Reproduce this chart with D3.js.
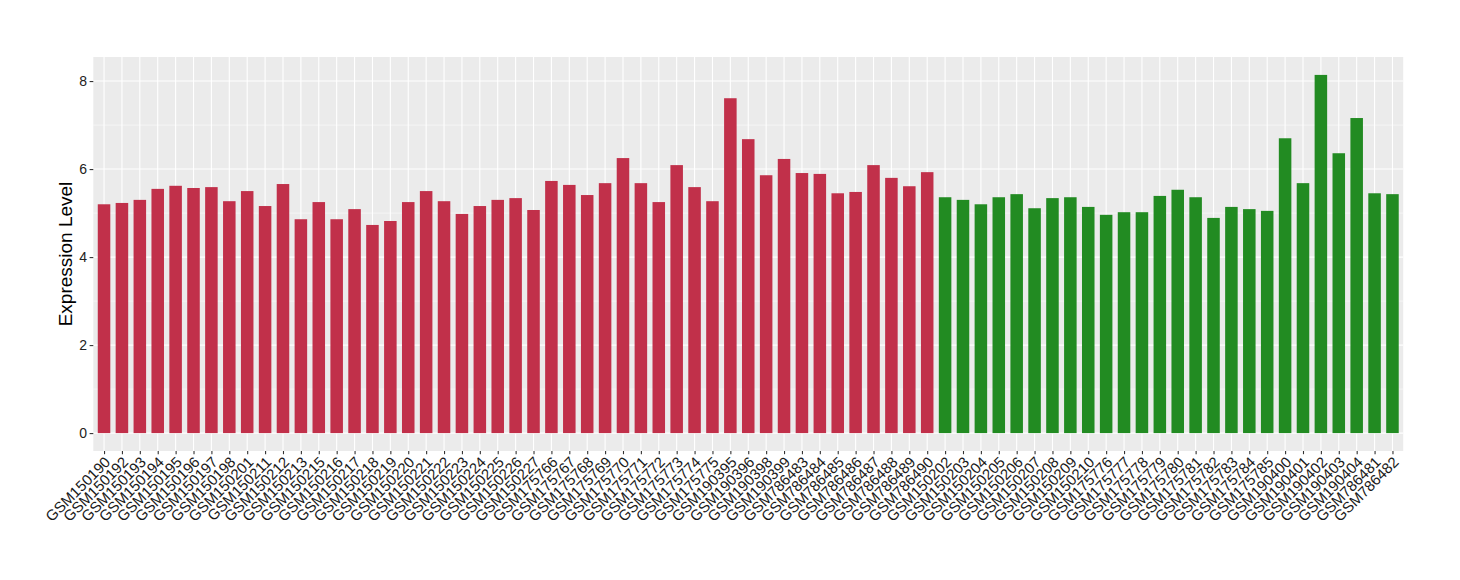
<!DOCTYPE html>
<html>
<head>
<meta charset="utf-8">
<script src="https://cdn.jsdelivr.net/npm/d3@7"></script>
<style>
  body { margin: 0; background: #fff; }
  svg { display: block; font-family: "Liberation Sans", Arial, Helvetica, sans-serif; }
</style>
</head>
<body>
<svg id="chart" width="1460" height="580"></svg>
<script>
// ---- data ----
const redSamples = ["GSM150190","GSM150192","GSM150193","GSM150194","GSM150195","GSM150196","GSM150197","GSM150198","GSM150201","GSM150211","GSM150212","GSM150213","GSM150215","GSM150216","GSM150217","GSM150218","GSM150219","GSM150220","GSM150221","GSM150222","GSM150223","GSM150224","GSM150225","GSM150226","GSM150227","GSM175766","GSM175767","GSM175768","GSM175769","GSM175770","GSM175771","GSM175772","GSM175773","GSM175774","GSM175775","GSM190395","GSM190396","GSM190398","GSM190399","GSM786483","GSM786484","GSM786485","GSM786486","GSM786487","GSM786488","GSM786489","GSM786490"];
const redValues = [5.20,5.23,5.30,5.55,5.62,5.57,5.59,5.27,5.50,5.16,5.66,4.86,5.25,4.86,5.09,4.73,4.82,5.25,5.50,5.27,4.98,5.16,5.30,5.34,5.07,5.73,5.64,5.41,5.68,6.25,5.68,5.25,6.09,5.59,5.27,7.61,6.68,5.86,6.23,5.91,5.89,5.45,5.48,6.09,5.80,5.61,5.93];
const greenSamples = ["GSM150202","GSM150203","GSM150204","GSM150205","GSM150206","GSM150207","GSM150208","GSM150209","GSM150210","GSM175776","GSM175777","GSM175778","GSM175779","GSM175780","GSM175781","GSM175782","GSM175783","GSM175784","GSM175785","GSM190400","GSM190401","GSM190402","GSM190403","GSM190404","GSM786481","GSM786482"];
const greenValues = [5.36,5.30,5.20,5.36,5.43,5.11,5.34,5.36,5.14,4.96,5.02,5.02,5.39,5.53,5.36,4.89,5.14,5.09,5.05,6.70,5.68,8.14,6.36,7.16,5.45,5.43];
const yTicks = [0, 2, 4, 6, 8];
const yMinorTicks = [1, 3, 5, 7];
const yTitle = "Expression Level";

// ---- build ----
const data = redSamples.map((s, i) => ({name: s, value: redValues[i], group: "red"}))
  .concat(greenSamples.map((s, i) => ({name: s, value: greenValues[i], group: "green"})));
const colors = {red: "#C1304A", green: "#228B22"};

const panel = {left: 93.3, right: 1403.2, top: 57, bottom: 451};
const svg = d3.select("#chart");

const maxV = d3.max(data, d => d.value);
const padY = maxV * 0.05;
const y = d3.scaleLinear().domain([-padY, maxV + padY]).range([panel.bottom, panel.top]);
const x = d3.scalePoint().domain(data.map(d => d.name)).range([panel.left, panel.right]).padding(0.6);
const barW = x.step() * 0.7;

// panel background
svg.append("rect").attr("x", panel.left).attr("y", panel.top)
  .attr("width", panel.right - panel.left).attr("height", panel.bottom - panel.top)
  .attr("fill", "#EBEBEB");

// minor gridlines
svg.append("g").selectAll("line").data(yMinorTicks).join("line")
  .attr("x1", panel.left).attr("x2", panel.right)
  .attr("y1", d => y(d)).attr("y2", d => y(d))
  .attr("stroke", "#fff").attr("stroke-width", 0.55);
// major gridlines
svg.append("g").selectAll("line").data(yTicks).join("line")
  .attr("x1", panel.left).attr("x2", panel.right)
  .attr("y1", d => y(d)).attr("y2", d => y(d))
  .attr("stroke", "#fff").attr("stroke-width", 1.1);
svg.append("g").selectAll("line").data(data).join("line")
  .attr("x1", d => x(d.name)).attr("x2", d => x(d.name))
  .attr("y1", panel.top).attr("y2", panel.bottom)
  .attr("stroke", "#fff").attr("stroke-width", 1.1);

// bars
svg.append("g").selectAll("rect").data(data).join("rect")
  .attr("x", d => x(d.name) - barW / 2)
  .attr("width", barW)
  .attr("y", d => y(d.value))
  .attr("height", d => y(0) - y(d.value))
  .attr("fill", d => colors[d.group]);

// y axis
const yAxis = d3.axisLeft(y).tickValues(yTicks).tickSize(3.7).tickPadding(2.5).tickFormat(d3.format("d"));
const gy = svg.append("g").attr("transform", `translate(${panel.left},0)`).call(yAxis);
gy.select(".domain").remove();
gy.selectAll(".tick line").attr("stroke", "#333").attr("stroke-width", 1.1);
gy.selectAll(".tick text").attr("fill", "#222").style("font-size", "14px")
  .style("font-family", "'Liberation Sans', Arial, sans-serif");

// x axis
const xAxis = d3.axisBottom(x).tickSize(3.2).tickPadding(0);
const gx = svg.append("g").attr("transform", `translate(0,${panel.bottom})`).call(xAxis);
gx.select(".domain").remove();
gx.selectAll(".tick line").attr("stroke", "#333").attr("stroke-width", 1.1);
gx.selectAll(".tick text")
  .attr("fill", "#1a1a1a")
  .style("font-size", "15px")
  .style("font-family", "'Liberation Sans', Arial, sans-serif")
  .attr("text-anchor", "end")
  .attr("y", 0).attr("x", 0).attr("dy", 0)
  .attr("transform", "translate(6.7,12) rotate(-45)");

// y title
svg.append("text")
  .attr("transform", `translate(65,${(panel.top + panel.bottom) / 2}) rotate(-90)`)
  .attr("text-anchor", "middle")
  .attr("dominant-baseline", "central")
  .style("font-size", "19px")
  .attr("fill", "#000")
  .text(yTitle);
</script>
</body>
</html>
